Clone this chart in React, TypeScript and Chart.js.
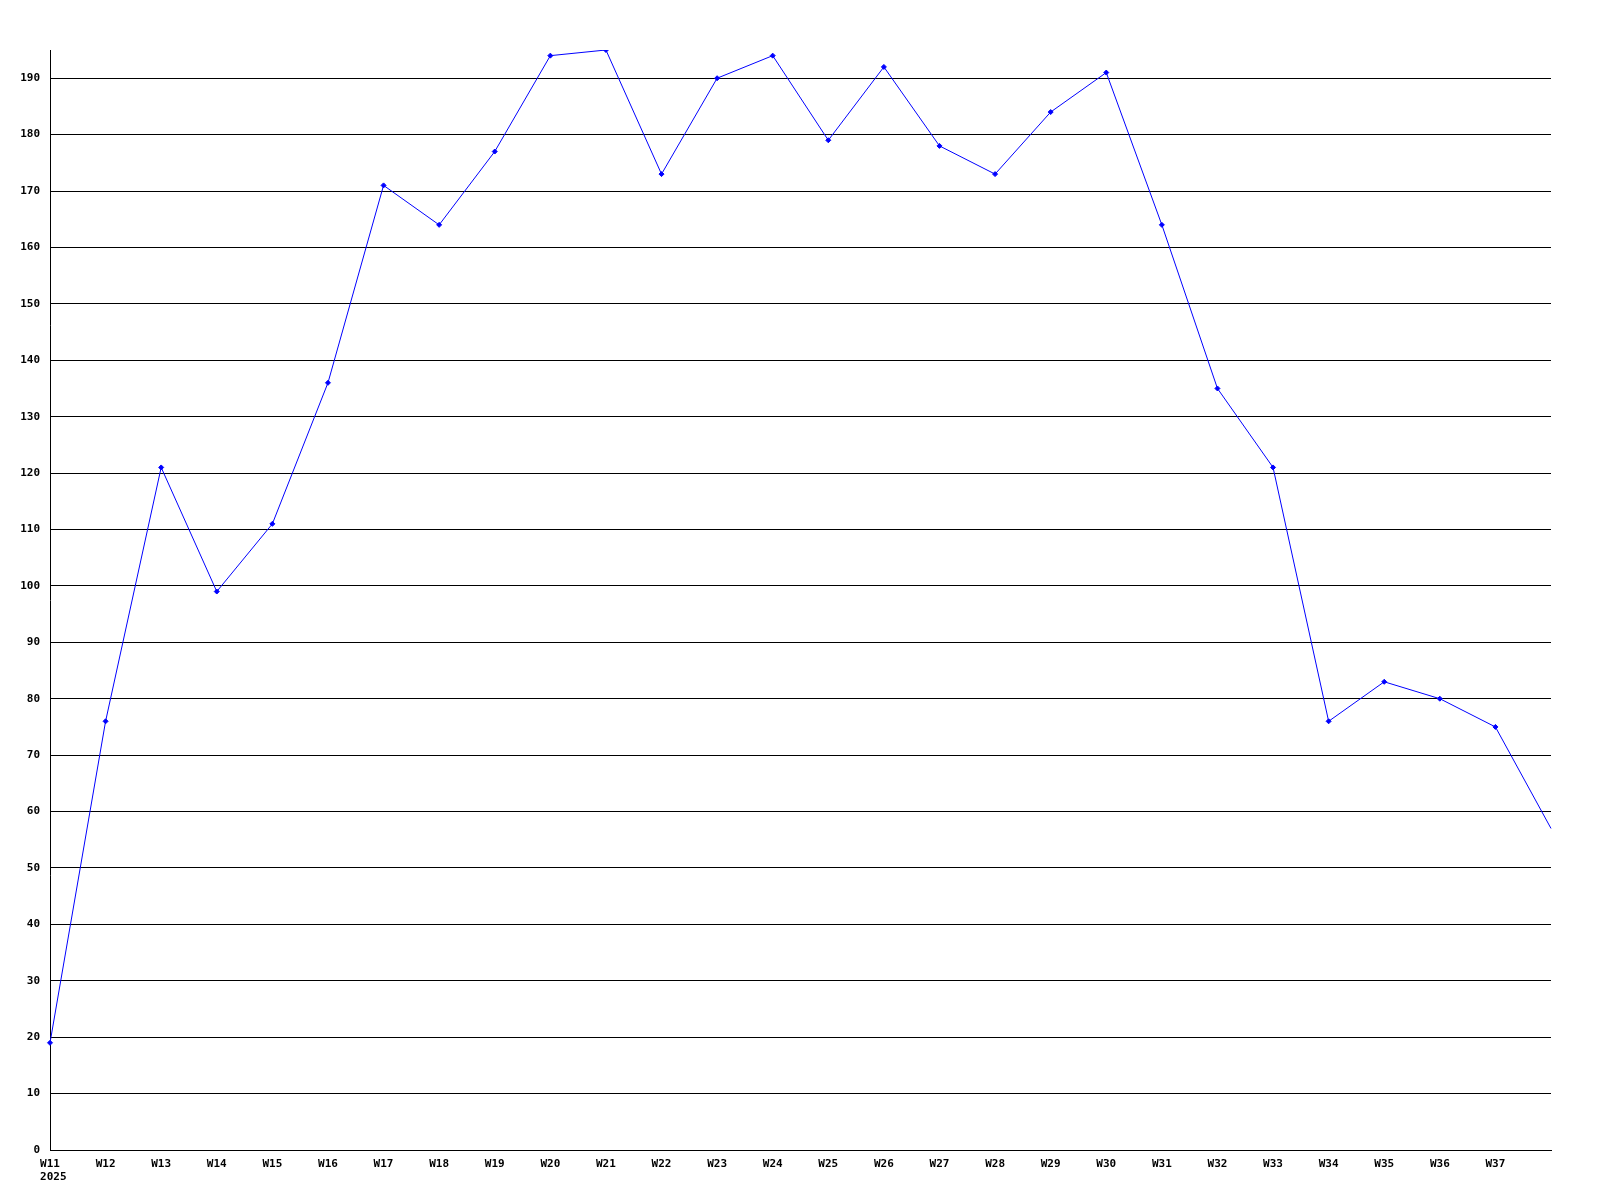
import React, { useEffect, useRef } from "react";
import { Chart, registerables } from "chart.js";

Chart.register(...registerables);

const weeks = [
  "W11", "W12", "W13", "W14", "W15", "W16", "W17", "W18", "W19", "W20",
  "W21", "W22", "W23", "W24", "W25", "W26", "W27", "W28", "W29", "W30",
  "W31", "W32", "W33", "W34", "W35", "W36", "W37", "W38",
];
const values = [
  19, 76, 121, 99, 111, 136, 171, 164, 177, 194,
  195, 173, 190, 194, 179, 192, 178, 173, 184, 191,
  164, 135, 121, 76, 83, 80, 75, 57,
];
const yearLabel = "2025";
const yMin = 0;
const yMax = 195;
const yStep = 10;

const FONT_FAMILY = "'DejaVu Sans Mono', monospace";

const yearPlugin = {
  id: "yearLabel",
  afterDraw(chart: any) {
    const x = chart.scales.x;
    const ctx = chart.ctx;
    ctx.save();
    ctx.font = `bold 11px ${FONT_FAMILY}`;
    ctx.fillStyle = "#000000";
    ctx.textBaseline = "middle";
    ctx.textAlign = "left";
    const w = ctx.measureText(weeks[0]).width;
    const px = x.getPixelForTick(0) - w / 2;
    ctx.fillText(yearLabel, px, x.top + 27);
    ctx.restore();
  },
};

export default function App() {
  const ref = useRef<HTMLCanvasElement>(null);

  useEffect(() => {
    document.body.style.margin = "0";
    const canvas = ref.current;
    if (!canvas) return;
    const font = { family: FONT_FAMILY, size: 11, weight: "bold" as const };
    const last = weeks.length - 1;
    const chart = new Chart(canvas, {
      type: "line",
      data: {
        labels: weeks,
        datasets: [
          {
            data: values,
            borderColor: "#0000ff",
            backgroundColor: "#0000ff",
            borderWidth: 1,
            pointStyle: "rectRot",
            pointRadius: (c: any) => (c.dataIndex === last ? 0 : 2.5),
            pointBorderWidth: 1,
            tension: 0,
            fill: false,
          },
        ],
      },
      options: {
        animation: false,
        responsive: false,
        maintainAspectRatio: false,
        layout: { padding: { top: 50, right: 49, left: 0, bottom: 0 } },
        plugins: { legend: { display: false }, tooltip: { enabled: false } },
        scales: {
          x: {
            type: "category",
            offset: false,
            grid: { display: false },
            border: { display: true, color: "#000000", width: 1 },
            ticks: {
              autoSkip: false,
              maxRotation: 0,
              minRotation: 0,
              padding: 0,
              color: "#000000",
              font,
              callback: (_v: any, i: number) => (i === last ? "" : weeks[i]),
            },
            afterFit: (s: any) => {
              s.height = 50;
            },
          },
          y: {
            min: yMin,
            max: yMax,
            afterBuildTicks: (s: any) => {
              s.ticks = s.ticks.filter((t: any) => t.value % yStep === 0);
            },
            grid: { color: "#000000", lineWidth: 1, drawTicks: false },
            border: { display: true, color: "#000000", width: 1 },
            ticks: {
              stepSize: yStep,
              padding: 10,
              color: "#000000",
              font,
            },
            afterFit: (s: any) => {
              s.width = 50;
            },
          },
        },
      },
      plugins: [yearPlugin],
    });
    return () => chart.destroy();
  }, []);

  return (
    <div style={{ width: 1600, height: 1200, background: "#ffffff" }}>
      <canvas ref={ref} width={1600} height={1200} style={{ display: "block" }} />
    </div>
  );
}
